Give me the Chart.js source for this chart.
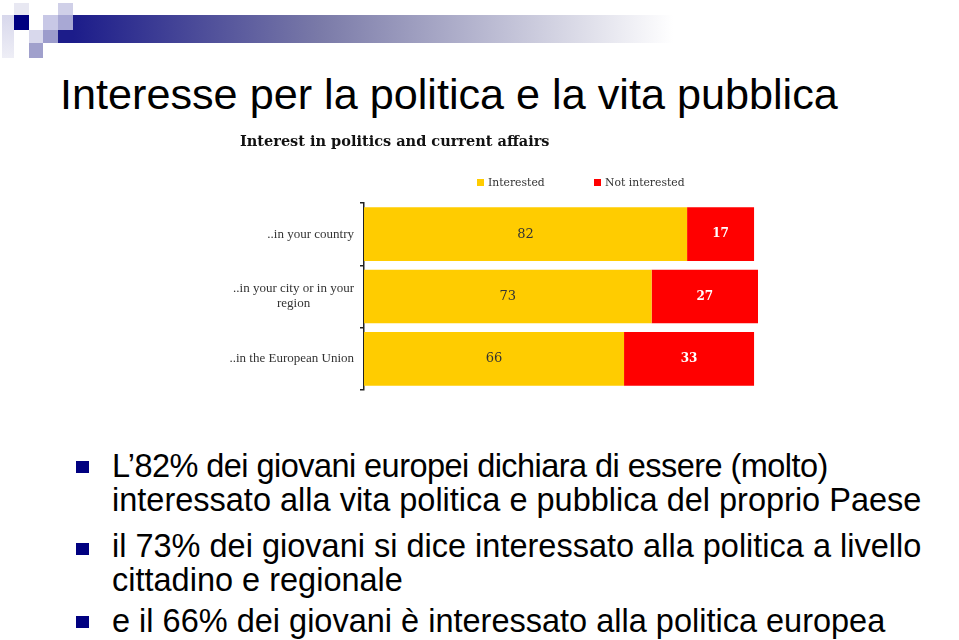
<!DOCTYPE html>
<html>
<head>
<meta charset="utf-8">
<script src="https://cdn.jsdelivr.net/npm/chart.js@4/dist/chart.umd.min.js"></script>
<style>
    body { margin: 0; width: 959px; height: 640px; background: #fff; position: relative; overflow: hidden; font-family: "Liberation Sans", Arial, sans-serif; }
    .sq { position: absolute; }
    #band { position: absolute; left: 73px; top: 15px; width: 886px; height: 28px;
        background: linear-gradient(to right, #1c1c8a 0px, #7a7aa8 247px, #ffffff 600px); }
    #title { position: absolute; left: 60px; top: 69px; font-size: 43.2px; line-height: 50px; color: #000; white-space: nowrap; }
    #chartBox { position: absolute; left: 220px; top: 127px; width: 585px; height: 278px; background: #fff; }
    #chartTitle { position: absolute; left: 20px; top: 4px; font: bold 14.5px "DejaVu Serif", serif; color: #111; line-height: 20px; white-space: nowrap; }
    #legend { position: absolute; top: 48px; font: 10.8px "DejaVu Serif", serif; color: #333; line-height: 16px; white-space: nowrap; }
    #legend span.box { display: inline-block; width: 7px; height: 7px; margin-right: 4px; vertical-align: 0px; }
    canvas { position: absolute; left: 0; top: 0; }
    .bullet { position: absolute; left: 112px; font-size: 32.5px; line-height: 34px; color: #000; white-space: nowrap; }
    .mark { position: absolute; left: 76px; width: 13px; height: 12px; background: #000080; }
</style>
</head>
<body>

<div class="sq" style="left:14px;top:3px;width:15px;height:12px;background:#e8e8f2"></div>
<div class="sq" style="left:2px;top:15px;width:12px;height:43px;background:linear-gradient(#d8d8ec,#eeeef6)"></div>
<div class="sq" style="left:14px;top:15px;width:15px;height:15px;background:#000080"></div>
<div class="sq" style="left:43px;top:15px;width:15px;height:15px;background:#c8c8e6"></div>
<div class="sq" style="left:58px;top:3px;width:15px;height:12px;background:#d0d0e8"></div>
<div class="sq" style="left:58px;top:15px;width:15px;height:15px;background:#a8a8d4"></div>
<div class="sq" style="left:58px;top:30px;width:15px;height:13px;background:#1c1c8a"></div>
<div class="sq" style="left:29px;top:30px;width:14px;height:13px;background:#d8d8ec"></div>
<div class="sq" style="left:43px;top:30px;width:15px;height:13px;background:#9c9ccc"></div>
<div class="sq" style="left:29px;top:43px;width:14px;height:15px;background:#a0a0cc"></div>
<div id="band"></div>

<div id="title">Interesse per la politica e la vita pubblica</div>

<div id="chartBox">
    <canvas id="interestChart" width="585" height="278"></canvas>
    <div id="chartTitle">Interest in politics and current affairs</div>
    <div id="legend"></div>
</div>

<div class="mark" style="top:461px"></div>
<div class="bullet" style="top:449px"><span style="letter-spacing:-0.55px">L’82% dei giovani europei dichiara di essere (molto)</span><br>interessato alla vita politica e pubblica del proprio Paese</div>
<div class="mark" style="top:543px"></div>
<div class="bullet" style="top:529px">il 73% dei giovani si dice interessato alla politica a livello<br>cittadino e regionale</div>
<div class="mark" style="top:616px"></div>
<div class="bullet" style="top:604px">e il 66% dei giovani è interessato alla politica europea</div>

<script>

// Chart data

const categories = [
    ["..in your country"],
    ["..in your city or in your", "region"],
    ["..in the European Union"]
];

const seriesNames = [
    "Interested",
    "Not interested"
];

const interested = [82, 73, 66];

const notInterested = [17, 27, 33];

const seriesColors = [
    "#ffcc00",
    "#ff0000"
];


// Legend (html, placed like the original image)

const legendOffsets = [257, 374];

document.getElementById("legend").innerHTML = seriesNames.map((name, i) =>
    `<span style="position:absolute;left:${legendOffsets[i]}px">` +
    `<span class="box" style="background:${seriesColors[i]}"></span>${name}</span>`
).join("");


// Category labels and values drawn on the canvas

const labelPlugin = {

    id: "barLabels",

    afterDatasetsDraw(chart) {

        const ctx = chart.ctx;
        const yScale = chart.scales.y;

        ctx.save();
        ctx.textAlign = "center";
        ctx.textBaseline = "middle";

        // y labels: block right aligned, lines centered
        ctx.font = '13px "Liberation Serif"';
        ctx.fillStyle = "#333";

        categories.forEach((lines, i) => {
            const y = yScale.getPixelForTick(i);
            const w = Math.max(...lines.map(l => ctx.measureText(l).width));
            const cx = yScale.right - 10 - w / 2;
            lines.forEach((line, j) => {
                ctx.fillText(line, cx, y + (j - (lines.length - 1) / 2) * 15);
            });
        });

        // values inside the bars
        chart.data.datasets.forEach((ds, d) => {
            ctx.font = d === 0 ? '13px "DejaVu Serif"' : 'bold 12px "DejaVu Serif"';
            ctx.fillStyle = d === 0 ? "#333" : "#fff";
            chart.getDatasetMeta(d).data.forEach((bar, i) => {
                const p = bar.getCenterPoint();
                ctx.fillText(ds.data[i], p.x, p.y);
            });
        });

        ctx.restore();
    }
};


// Create Chart

const ctx = document.getElementById("interestChart").getContext("2d");

const interestChart = new Chart(ctx, {

    type: "bar",

    data: {

        labels: categories,

        datasets: [{
            label: seriesNames[0],
            data: interested,
            backgroundColor: seriesColors[0],
            barPercentage: 0.86,
            categoryPercentage: 1
        }, {
            label: seriesNames[1],
            data: notInterested,
            backgroundColor: seriesColors[1],
            barPercentage: 0.86,
            categoryPercentage: 1
        }]
    },

    options: {

        indexAxis: "y",

        responsive: false,

        animation: false,

        layout: {
            padding: { left: 0, right: 47, top: 76, bottom: 15 }
        },

        scales: {

            x: {
                stacked: true,
                min: 0,
                max: 100,
                display: false
            },

            y: {
                stacked: true,
                grid: {
                    drawOnChartArea: false,
                    tickLength: 4,
                    color: "#222",
                    lineWidth: 1.5
                },
                border: {
                    color: "#222",
                    width: 1.5
                },
                ticks: {
                    display: false
                },
                afterFit(scale) {
                    scale.width = 144;
                }
            }
        },

        plugins: {
            legend: { display: false },
            tooltip: { enabled: false }
        }
    },

    plugins: [labelPlugin]
});

</script>
</body>
</html>
